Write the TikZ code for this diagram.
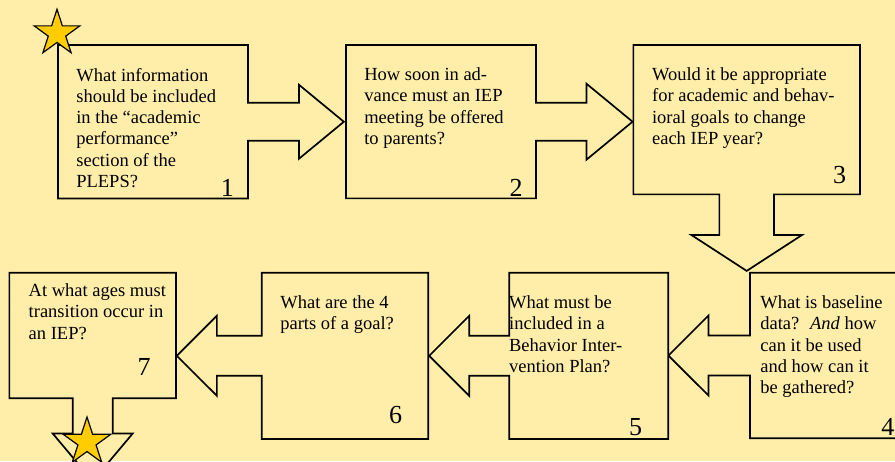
\documentclass[tikz,border=0pt]{standalone}
\usepackage{fontspec}
\setmainfont{Liberation Serif}
\usetikzlibrary{positioning,shapes.arrows,shapes.geometric}
\definecolor{paper}{HTML}{FFEEAA}
\definecolor{gold}{HTML}{FFCC00}
\tikzset{
  qbox/.style={arrow box,draw=black,line width=1.7pt,fill=paper,inner sep=0pt,
    arrow box tip angle=90,arrow box shaft width=40pt,arrow box head extend=20pt},
  qtext/.style={inner sep=0pt,align=left,font=\fontsize{18.5}{21.3}\selectfont},
  qnum/.style={inner sep=0pt,text depth=0pt,font=\fontsize{26}{30}\selectfont},
  badge/.style={star,star points=5,star point ratio=2.618,draw=black,line width=1.2pt,
    fill=gold,minimum size=48pt,inner sep=0pt},
}

\begin{document}
\begin{tikzpicture}[x=1pt,y=-1pt]
\clip (0,0) rectangle (895,461);
\fill[paper] (0,0) rectangle (895,461);

% top row
\node[qbox,minimum width=190pt,minimum height=153.5pt,arrow box arrows={east:95pt},
  arrow box tip angle=79,arrow box shaft width=38pt,arrow box head extend=18pt] (q1) at (153,121.75) {};
\node[qbox,minimum width=190pt,minimum height=153.3pt,arrow box arrows={east:95.7pt},
  arrow box tip angle=79,arrow box shaft width=38pt,arrow box head extend=19pt] (q2) at (441,121.7) {};
\node[qbox,minimum width=226.7pt,minimum height=149.3pt,arrow box arrows={south:75.7pt},
  arrow box tip angle=114,arrow box shaft width=54.7pt,arrow box head extend=28pt] (q3) at (746.7,119.7) {};

% bottom row
\node[qbox,minimum width=150pt,minimum height=165.6pt,arrow box arrows={west:80.7pt}] (q4) at (825,355.5) {};
\node[qbox,minimum width=159pt,minimum height=166.3pt,arrow box arrows={west:79.3pt}] (q5) at (588.8,355.8) {};
\node[qbox,minimum width=166.6pt,minimum height=166.3pt,arrow box arrows={west:84pt}] (q6) at (345,355.8) {};
\node[qbox,minimum width=166.7pt,minimum height=125.6pt,arrow box arrows={south:82pt},
  arrow box tip angle=80] (q7) at (92.7,335.5) {};

% questions
\node[qtext,below right=23.7pt and 19pt of q1.north west] (t1) {What information\\should be included\\in the “academic\\performance”\\section of the\\PLEPS?};
\node[qtext,below right=23.4pt and 19pt of q2.north west] (t2) {How soon in ad-\\vance must an IEP\\meeting be offered\\to parents?};
\node[qtext,below right=23.4pt and 19.4pt of q3.north west] (t3) {Would it be appropriate\\for academic and behav-\\ioral goals to change\\each IEP year?};
\node[qtext,below right=23.7pt and 11pt of q4.north west] (t4) {What is baseline\\data?~ \textit{And} how\\can it be used\\and how can it\\be gathered?};
\node[qtext,below right=23.7pt and 0.5pt of q5.north west] (t5) {What must be\\included in a\\Behavior Inter-\\vention Plan?};
\node[qtext,below right=23.7pt and 19.3pt of q6.north west] (t6) {What are the 4\\parts of a goal?};
\node[qtext,below right=11.7pt and 20pt of q7.north west] (t7) {At what ages must\\transition occur in\\an IEP?};

% numbers
\node[qnum,above left=2.5pt and 14.8pt of q1.south east] (n1) {1};
\node[qnum,above left=2.6pt and 14pt of q2.south east] (n2) {2};
\node[qnum,above left=11.3pt and 14.5pt of q3.south east] (n3) {3};
\node[qnum,above left=3.3pt and 6.2pt of q4.south east] (n4) {4};
\node[qnum,above left=4pt and 26.8pt of q5.south east] (n5) {5};
\node[qnum,above left=15.7pt and 26.8pt of q6.south east] (n6) {6};
\node[qnum,above left=23.3pt and 26.2pt of q7.south east] (n7) {7};

% stars
\node[badge] (start) at (57,33.3) {};
\node[badge,minimum size=50pt] (finish) at (87,442) {};

\end{tikzpicture}
\end{document}
